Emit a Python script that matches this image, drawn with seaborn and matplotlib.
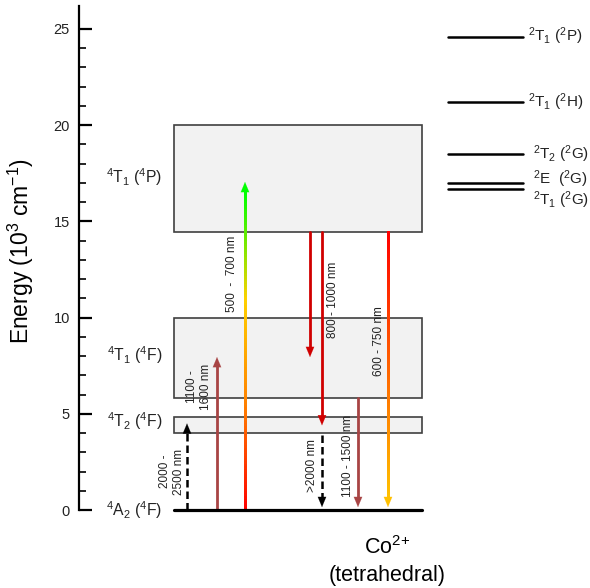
import numpy as np
import pandas as pd
import matplotlib
matplotlib.use("Agg")
import matplotlib.pyplot as plt
import seaborn as sns
from matplotlib.collections import LineCollection
from matplotlib.colors import LinearSegmentedColormap
from matplotlib.patches import Rectangle

# ---------------- data ----------------
quartet_labels = ["$^4$T$_1$ ($^4$P)", "$^4$T$_1$ ($^4$F)", "$^4$T$_2$ ($^4$F)"]
quartet_low = [14.45, 5.82, 4.0]
quartet_high = [20.0, 10.0, 4.83]
quartet_label_y = [17.3, 8.05, 4.6]
ground_label = "$^4$A$_2$ ($^4$F)"
ground_energy = 0.0

doublet_labels = ["$^2$T$_1$ ($^2$P)", "$^2$T$_1$ ($^2$H)", "$^2$T$_2$ ($^2$G)",
                  "$^2$E  ($^2$G)", "$^2$T$_1$ ($^2$G)"]
doublet_energy = [24.6, 21.2, 18.5, 17.0, 16.7]
doublet_label_y = [24.6, 21.2, 18.5, 17.2, 16.1]

# transitions: start energy, end energy, label
trans_start = [0.0, 0.0, 0.0, 14.45, 14.45, 3.9, 5.82, 14.45]
trans_end = [4.5, 7.95, 17.05, 7.95, 4.4, 0.15, 0.15, 0.15]
trans_labels = ["2000 -\n2500 nm", "1100 -\n1600 nm", "500  -  700 nm", "",
                "800 - 1000 nm", ">2000 nm", "1100 - 1500 nm", "600 - 750 nm"]

y_ticks = [0, 5, 10, 15, 20, 25]

# ---------------- layout / style ----------------
sns.set_theme(style="white")
plt.rcParams["font.family"] = ["Liberation Sans", "DejaVu Sans"]
plt.rcParams["mathtext.default"] = "regular"

trans_x = [187, 217, 245, 310, 322, 322, 358, 388]
trans_style = ["dash", "brown", "grad_up", "red", "red", "dash", "brown", "grad_down"]
label_x = [172, 199, 232, 0, 333, 312, 348, 379]
label_y = [2.0, 6.4, 12.3, 0, 10.9, 2.3, 2.8, 8.8]

px_per_unit = 19.24
y0_px = 510
fig = plt.figure(figsize=(5.9, 5.88), dpi=100)
ax = fig.add_axes([0, 0, 1, 1])
ax.set_xlim(0, 590)
ax.set_ylim((y0_px - 588) / px_per_unit, y0_px / px_per_unit)
ax.patch.set_alpha(0)

for s in ["top", "right", "bottom"]:
    ax.spines[s].set_visible(False)
ax.spines["left"].set_position(("data", 79))
ax.spines["left"].set_bounds(0, 26.2)
ax.spines["left"].set_linewidth(1.6)
ax.spines["left"].set_color("black")
ax.set_xticks([])
ax.set_yticks(y_ticks)
ax.set_yticks(np.arange(0, 26, 1), minor=True)
ax.tick_params(axis="y", which="major", direction="in", length=9, width=1.6,
               labelsize=10.5, pad=6.5, colors="black", left=True)
ax.tick_params(axis="y", which="minor", direction="in", length=5, width=1.2,
               left=True, colors="black")
for t in ax.get_yticklabels():
    t.set_color("#222222")

# quartet boxes
for lo, hi, lab, ly in zip(quartet_low, quartet_high, quartet_labels, quartet_label_y):
    ax.add_patch(Rectangle((174, lo), 248, hi - lo, facecolor="#f2f2f2",
                           edgecolor="#404040", linewidth=1.2, zorder=1))
    ax.text(162, ly, lab, ha="right", va="center", fontsize=11.3, color="#222222")

# ground state
ax.plot([174, 422], [ground_energy, ground_energy], color="black", lw=2.3, zorder=5)
ax.text(162, ground_energy, ground_label, ha="right", va="center", fontsize=11.3,
        color="#222222")

# doublet levels via seaborn
dbl = pd.DataFrame({
    "x": [448, 523] * len(doublet_energy),
    "E": np.repeat(doublet_energy, 2),
    "state": np.repeat(doublet_labels, 2),
})
sns.lineplot(data=dbl, x="x", y="E", units="state", estimator=None, color="black",
             lw=1.8, ax=ax, legend=False, sort=False)
ax.set_xlabel("")
ax.set_ylabel("")
for lab, ly in zip(doublet_labels, doublet_label_y):
    xl = 528 if "P" in lab or "H" in lab else 533
    ax.text(xl, ly, lab, ha="left", va="center", fontsize=11, color="#222222")

# transitions
cm_up = LinearSegmentedColormap.from_list("up", ["#ff0000", "#ff8000", "#ffd000", "#00ff00"])
cm_down = LinearSegmentedColormap.from_list("down", ["#ff0000", "#ff6000", "#ffc000"])
head_len = 0.45


def grad_line(x, y1, y2, cmap):
    ys = np.linspace(y1, y2, 120)
    segs = [[(x, ys[i]), (x, ys[i + 1])] for i in range(len(ys) - 1)]
    cols = [cmap(i / (len(ys) - 2)) for i in range(len(ys) - 1)]
    ax.add_collection(LineCollection(segs, colors=cols, linewidths=2.0, zorder=4,
                                     capstyle="projecting", antialiaseds=False))
    return cmap(1.0)


for x, s, e, st in zip(trans_x, trans_start, trans_end, trans_style):
    direction = 1 if e > s else -1
    line_end = e - direction * head_len
    if st == "dash":
        col = "black"
        ax.plot([x, x], [s, line_end], color=col, lw=1.8, ls=(0, (3, 1.6)), zorder=4)
    elif st == "brown":
        col = "#a84444"
        ax.plot([x, x], [s, line_end], color=col, lw=2.0, zorder=4)
    elif st == "red":
        col = "#d00000"
        ax.plot([x, x], [s, line_end], color=col, lw=2.0, zorder=4)
    elif st == "grad_up":
        col = grad_line(x, s, line_end, cm_up)
    else:
        col = grad_line(x, s, line_end, cm_down)
    ax.annotate("", xy=(x, e), xytext=(x, line_end),
                arrowprops=dict(arrowstyle="-|>,head_length=0.6,head_width=0.25",
                                color=col, lw=0.1, shrinkA=0, shrinkB=0), zorder=6)

for lab, lx, ly in zip(trans_labels, label_x, label_y):
    if lab:
        ax.text(lx, ly, lab, rotation=90, ha="center", va="center", fontsize=8.5,
                color="#222222", linespacing=1.2, multialignment="center")

# axis title and species label
ax.text(21, (y0_px - 251) / px_per_unit, "Energy (10$^3$ cm$^{-1}$)", rotation=90,
        ha="center", va="center", fontsize=16.5, color="black")
ax.text(387, (y0_px - 548) / px_per_unit, "Co$^{2{+}}$", ha="center", va="center",
        fontsize=15.5, color="black")
ax.text(387, (y0_px - 575) / px_per_unit, "(tetrahedral)", ha="center", va="center",
        fontsize=15.5, color="black")

fig.savefig("out.png", dpi=100, facecolor="white")
